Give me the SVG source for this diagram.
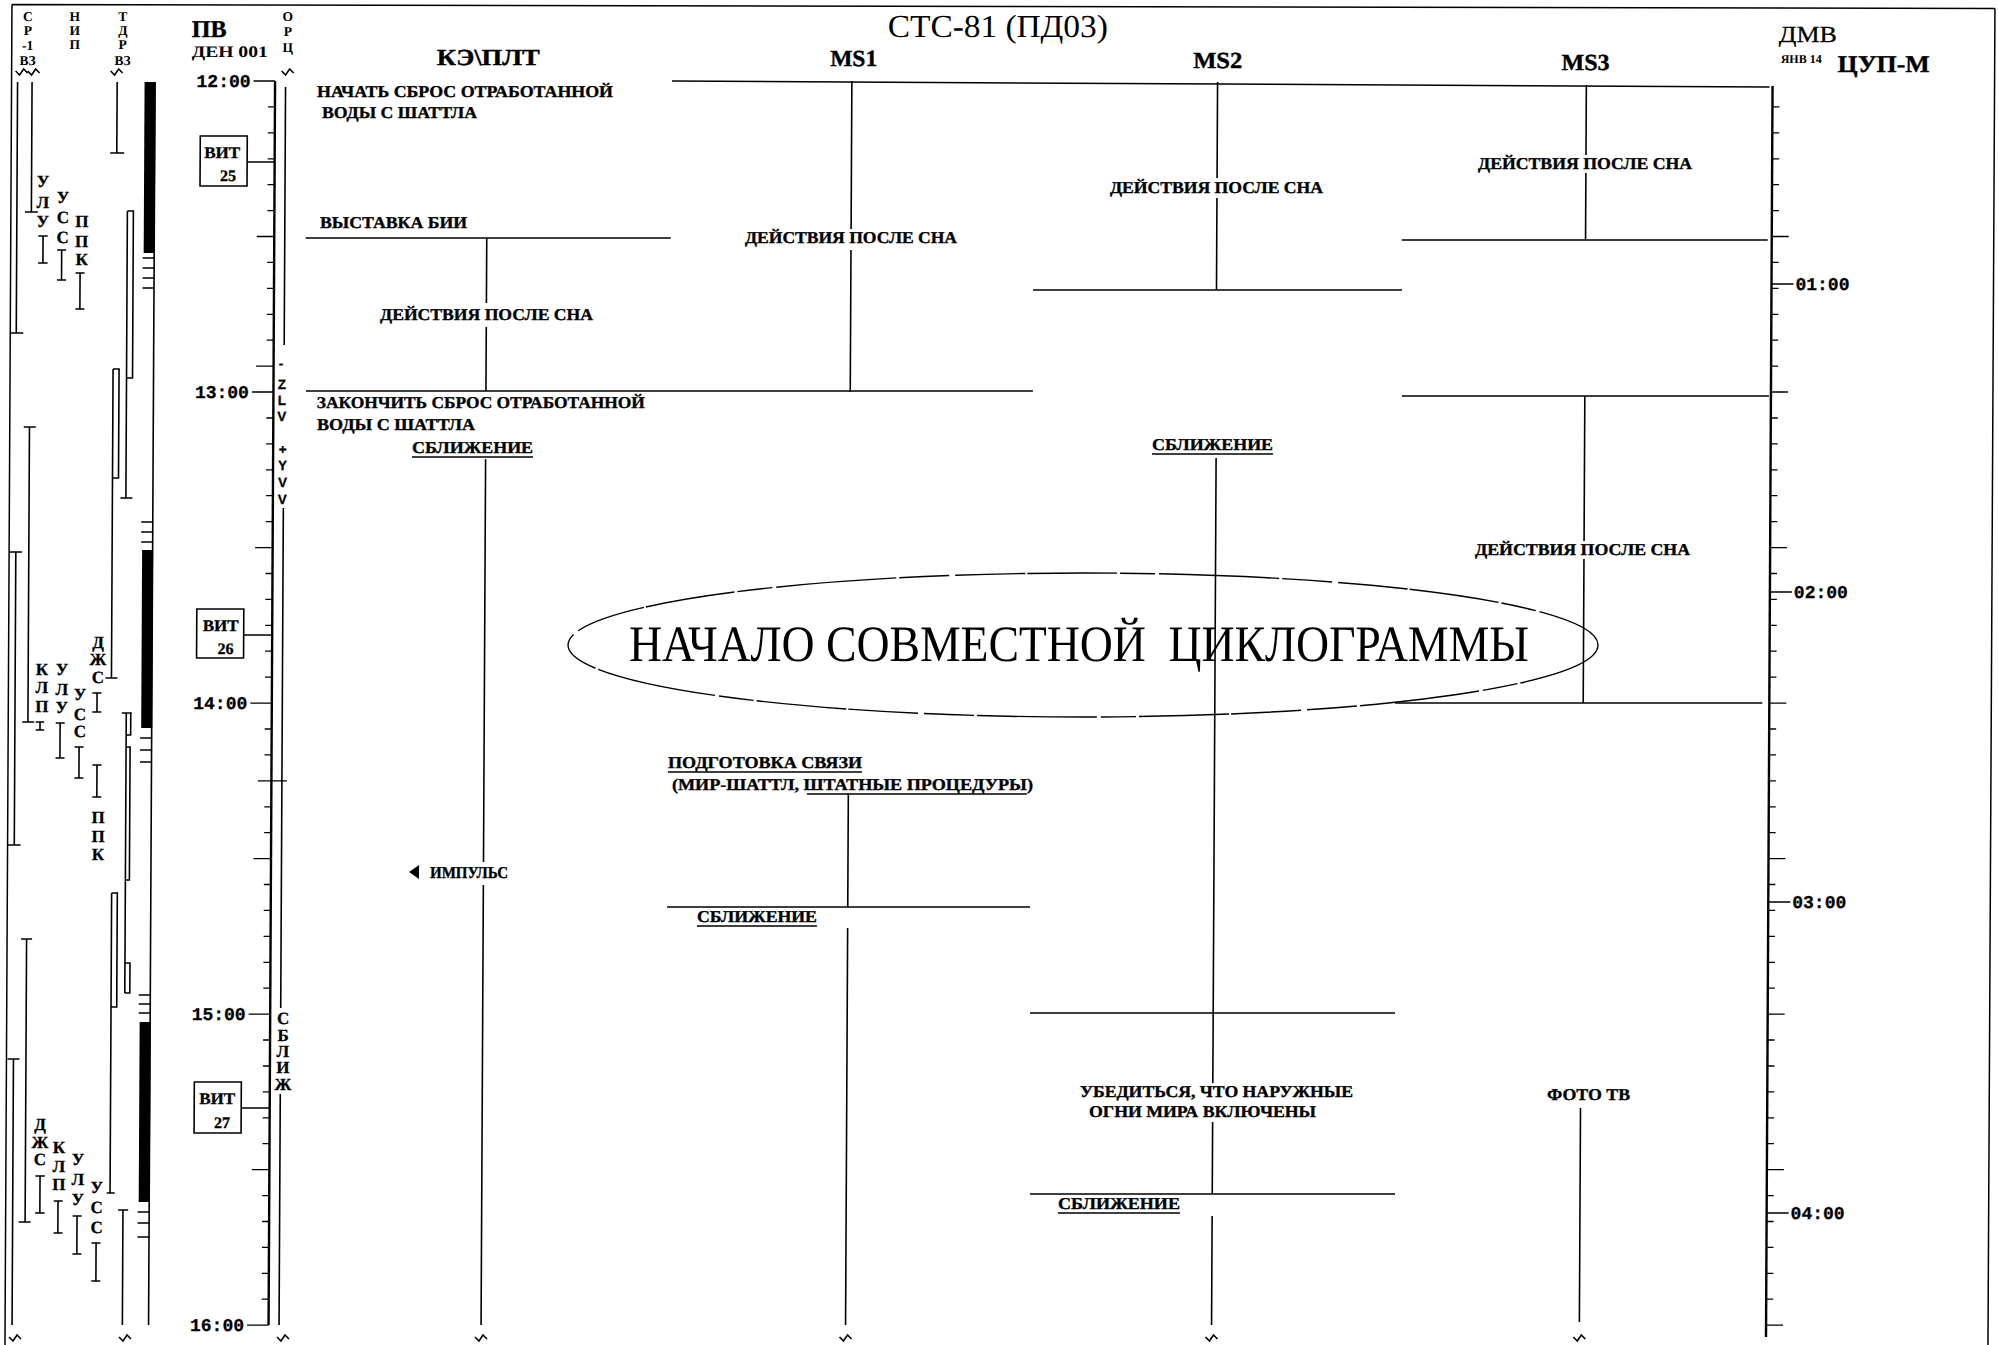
<svg xmlns="http://www.w3.org/2000/svg" width="1998" height="1345" viewBox="0 0 1998 1345">
<style>
text{font-family:"Liberation Serif","Times New Roman",serif;fill:#000}
.lbl{font-weight:bold;font-size:16.5px;stroke:#000;stroke-width:0.35}
.hdr{font-weight:bold;font-size:23px;text-anchor:middle;stroke:#000;stroke-width:0.4}
.sm{font-weight:bold;font-size:13.5px;text-anchor:middle}
.ltr{font-weight:bold;font-size:17px;text-anchor:middle;stroke:#000;stroke-width:0.3}
.lat{font-family:"Liberation Sans",Arial,sans-serif;font-weight:bold;font-size:13.5px;text-anchor:middle;stroke:#000;stroke-width:0.3}
.mono{font-family:"Liberation Mono","Courier New",monospace;font-weight:bold;font-size:18px;stroke:#000;stroke-width:0.3}
.vit{font-weight:bold;font-size:16px;stroke:#000;stroke-width:0.3}
.ln{stroke:#000;fill:none;stroke-width:1.6}
.th{stroke:#000;fill:none;stroke-width:2.4}
.hl{stroke:#000;fill:none;stroke-width:1.5}
.tk{stroke:#000;fill:none;stroke-width:1.3}
.ul{stroke:#000;fill:none;stroke-width:1.3}
.box{stroke:#000;fill:#fff;stroke-width:1.6}
</style>
<defs>
<path id="wv" d="M-6,-1 L-2,3 L2,-3 L6,1" fill="none" stroke="#000" stroke-width="1.6"/>
</defs>
<rect x="0" y="0" width="1998" height="1345" fill="#fff"/>
<g transform="skewX(-0.3)">

<g id="frame">
<path class="hl" d="M12,4.5 L1995,8.5 M12,4.5 V1345 M1995,8.5 V1345"/>
</g>

<g id="title">
<text x="998" y="37" font-size="32" text-anchor="middle" textLength="220" lengthAdjust="spacingAndGlyphs">СТС-81 (ПД03)</text>
</g>

<g id="left-panel">
<text class="sm" x="28" y="21">С</text><text class="sm" x="28" y="35">Р</text><text class="sm" x="28" y="50">-1</text><text class="sm" x="28" y="65">ВЗ</text>
<text class="sm" x="75" y="21">Н</text><text class="sm" x="75" y="35">И</text><text class="sm" x="75" y="49">П</text>
<text class="sm" x="123" y="21">Т</text><text class="sm" x="123" y="35">Д</text><text class="sm" x="123" y="49">Р</text><text class="sm" x="123" y="65">ВЗ</text>
<use href="#wv" x="22" y="72"/><use href="#wv" x="34" y="72"/><use href="#wv" x="117" y="72"/>
<use href="#wv" x="22" y="1338"/><use href="#wv" x="132" y="1338"/>
<path class="ln" d="M18,82 V333 M12,333 H25 M32.5,82 V212 M26,212 H39
M44.3,236 V263 M39.5,236 H49 M39.5,263 H49
M63,250 V280 M58.5,250 H67.5 M58.5,280 H67.5
M81.5,273 V309 M77,273 H86 M77,309 H86
M31.7,427 V722 M26,427 H38 M26,722 H38
M18.7,552 V845 M12,552 H25 M12,845 H25
M31.5,939 V1222 M26,939 H37 M25,1222 H37
M19,1059 V1325 M13,1059 H25
M43.8,722 V730 M39.5,722 H48 M39.5,730 H48
M63.9,723 V758 M59.5,723 H68.5 M59.5,758 H68.5
M83,747 V778 M78.5,747 H87.5 M78.5,778 H87.5
M100.7,693 V712 M96,693 H105 M96,712 H105
M101,765 V797 M96.5,765 H105.5 M96.5,797 H105.5
M46.2,1176 V1213 M41.5,1176 H51 M41.5,1213 H51
M64.3,1201 V1233 M60,1201 H69 M60,1233 H69
M83.4,1216 V1254 M79,1216 H88 M79,1254 H88
M102.6,1243 V1281 M98,1243 H107 M98,1281 H107
M117.6,82 V153 M111,153 H125
M128.5,211 V498 M128.5,211 H134.5 V378 H128.5 M123,498 H135
M115,369 V678 M115,369 H121 V478 H115 M109,678 H121
M130,713 V993 M125.5,713 H135.5 M134.5,713 V735 H130 M130,747 H134 V880 H130 M130,963 H135 V993 H130
M116.3,893 H122 V1007 H116.3 M116.3,893 V1193 M113,1193 H121
M129.3,1210 V1325 M124.5,1210 H134.5
M155.5,82 V1325"/>
<rect x="145" y="82" width="11" height="171" fill="#000"/>
<rect x="145" y="550" width="11" height="178" fill="#000"/>
<rect x="145" y="1022" width="11" height="180" fill="#000"/>
<path class="tk" d="M144,258 H156 M144,268 H156 M144,278 H156 M144,288 H156 M144,522 H156 M144,532 H156 M144,542 H156 M144,738 H156 M144,750 H156 M144,762 H156 M144,995 H156 M144,1004 H156 M144,1013 H156 M144,1212 H156 M144,1223 H156 M144,1237 H156"/>
<text class="ltr" x="44" y="187">У</text><text class="ltr" x="44" y="208">Л</text><text class="ltr" x="44" y="227">У</text>
<text class="ltr" x="64" y="203">У</text><text class="ltr" x="64" y="223">С</text><text class="ltr" x="64" y="243">С</text>
<text class="ltr" x="83" y="227">П</text><text class="ltr" x="83" y="247">П</text><text class="ltr" x="83" y="265">К</text>
<text class="ltr" x="101.5" y="648">Д</text><text class="ltr" x="101.5" y="665">Ж</text><text class="ltr" x="101.5" y="683">С</text>
<text class="ltr" x="45.5" y="675">К</text><text class="ltr" x="45.5" y="693">Л</text><text class="ltr" x="45.5" y="712">П</text>
<text class="ltr" x="65.5" y="675">У</text><text class="ltr" x="65.5" y="695">Л</text><text class="ltr" x="65.5" y="713">У</text>
<text class="ltr" x="83.7" y="700">У</text><text class="ltr" x="83.7" y="720">С</text><text class="ltr" x="83.7" y="737">С</text>
<text class="ltr" x="102.5" y="823">П</text><text class="ltr" x="102.5" y="842">П</text><text class="ltr" x="102.5" y="860">К</text>
<text class="ltr" x="46" y="1130">Д</text><text class="ltr" x="46" y="1148">Ж</text><text class="ltr" x="46" y="1165">С</text>
<text class="ltr" x="65" y="1153">К</text><text class="ltr" x="65" y="1172">Л</text><text class="ltr" x="65" y="1190">П</text>
<text class="ltr" x="84" y="1165">У</text><text class="ltr" x="84" y="1185">Л</text><text class="ltr" x="84" y="1205">У</text>
<text class="ltr" x="103" y="1193">У</text><text class="ltr" x="103" y="1213">С</text><text class="ltr" x="103" y="1233">С</text>
</g>

<g id="pv-axis">
<text x="192" y="37" font-size="24" font-weight="bold" stroke="#000" stroke-width="0.4">ПВ</text>
<text x="192" y="57" font-size="16" font-weight="bold" textLength="76" lengthAdjust="spacingAndGlyphs">ДЕН 001</text>
<path class="th" d="M275.5,81 V1325"/>
<path class="tk" d="M268.5,106.9h7M268.5,132.8h7M268.5,158.8h7M268.5,184.7h7M268.5,210.6h7M268.5,262.4h7M268.5,288.4h7M268.5,314.3h7M268.5,340.2h7M268.5,418h7M268.5,443.9h7M268.5,469.8h7M268.5,495.7h7M268.5,521.6h7M268.5,573.5h7M268.5,599.4h7M268.5,625.3h7M268.5,651.2h7M268.5,677.2h7M268.5,729h7M268.5,754.9h7M268.5,806.8h7M268.5,832.7h7M268.5,884.5h7M268.5,910.4h7M268.5,936.4h7M268.5,962.3h7M268.5,988.2h7M268.5,1040h7M268.5,1066h7M268.5,1091.9h7M268.5,1117.8h7M268.5,1143.7h7M268.5,1195.6h7M268.5,1221.5h7M268.5,1247.4h7M268.5,1273.3h7M268.5,1299.2h7
M258,236.5H275.5M258,366.1H275.5M258,547.6H275.5M258,858.6H275.5M258,1169.6H275.5M262,780.8H291
M254,81H275.5M254,392H275.5M254,703.1H275.5M254,1014.1H275.5M254,1325.2H275.5"/>
<text class="mono" x="251" y="87" text-anchor="end">12:00</text>
<text class="mono" x="251" y="398" text-anchor="end">13:00</text>
<text class="mono" x="251" y="709" text-anchor="end">14:00</text>
<text class="mono" x="251" y="1020" text-anchor="end">15:00</text>
<text class="mono" x="251" y="1331" text-anchor="end">16:00</text>
</g>

<g id="orc-track">
<text class="sm" x="288" y="21">О</text><text class="sm" x="288" y="36">Р</text><text class="sm" x="288" y="52">Ц</text>
<use href="#wv" x="288" y="72"/><use href="#wv" x="290" y="1338"/>
<path class="ln" stroke-width="2" d="M286,87 V345 M286,508 V1008 M286,1094 V1325"/>
<text class="lat" x="283" y="368">-</text><text class="lat" x="284" y="389">Z</text><text class="lat" x="284" y="405">L</text><text class="lat" x="284" y="421">V</text>
<text class="lat" x="285" y="454">+</text><text class="lat" x="285" y="470">Y</text><text class="lat" x="285" y="487">V</text><text class="lat" x="285" y="504">V</text>
<text class="ltr" x="288.5" y="1024">С</text><text class="ltr" x="288.5" y="1041">Б</text><text class="ltr" x="288.5" y="1057">Л</text><text class="ltr" x="288.5" y="1073">И</text><text class="ltr" x="288.5" y="1090">Ж</text>
</g>

<g id="vit-25">
<rect class="box" x="201" y="136" width="47" height="50"/>
<text class="vit" x="205" y="158" textLength="36" lengthAdjust="spacingAndGlyphs">ВИТ</text>
<text class="vit" x="221" y="181">25</text>
</g>
<g id="vit-26">
<rect class="box" x="200" y="609" width="47" height="49"/>
<text class="vit" x="206" y="631" textLength="36" lengthAdjust="spacingAndGlyphs">ВИТ</text>
<text class="vit" x="221" y="654">26</text>
</g>
<g id="vit-27">
<rect class="box" x="200" y="1082" width="47" height="51"/>
<text class="vit" x="205" y="1104" textLength="36" lengthAdjust="spacingAndGlyphs">ВИТ</text>
<text class="vit" x="220" y="1128">27</text>
</g>

<g id="column-headers">
<text class="hdr" x="488.5" y="65" textLength="103" lengthAdjust="spacingAndGlyphs">КЭ\ПЛТ</text>
<text class="hdr" x="854" y="66" textLength="47" lengthAdjust="spacingAndGlyphs">MS1</text>
<text class="hdr" x="1218" y="68" textLength="49" lengthAdjust="spacingAndGlyphs">MS2</text>
<text class="hdr" x="1586" y="70" textLength="48" lengthAdjust="spacingAndGlyphs">MS3</text>
</g>

<g id="tsup-axis">
<text x="1779" y="42" font-size="23" textLength="58" lengthAdjust="spacingAndGlyphs" stroke="#000" stroke-width="0.3">ДМВ</text>
<text x="1781" y="63" font-size="12" font-weight="bold">ЯНВ 14</text>
<text x="1838" y="72" font-size="24" font-weight="bold" textLength="92" lengthAdjust="spacingAndGlyphs" stroke="#000" stroke-width="0.4">ЦУП-М</text>
<path class="th" d="M1773,86 V1337"/>
<path class="tk" d="M1773,106.9h7M1773,132.8h7M1773,158.8h7M1773,184.7h7M1773,210.6h7M1773,262.4h7M1773,288.4h7M1773,314.3h7M1773,340.2h7M1773,366.1h7M1773,418h7M1773,443.9h7M1773,469.8h7M1773,495.7h7M1773,521.6h7M1773,573.5h7M1773,599.4h7M1773,625.3h7M1773,651.2h7M1773,677.2h7M1773,729h7M1773,754.9h7M1773,780.8h7M1773,806.8h7M1773,832.7h7M1773,884.5h7M1773,910.4h7M1773,936.4h7M1773,962.3h7M1773,988.2h7M1773,1040h7M1773,1066h7M1773,1091.9h7M1773,1117.8h7M1773,1143.7h7M1773,1195.6h7M1773,1221.5h7M1773,1247.4h7M1773,1273.3h7M1773,1299.2h7
M1773,236.5h17M1773,392h17M1773,547.6h17M1773,703.1h17M1773,858.6h17M1773,1014.1h17M1773,1169.6h17M1773,1325.2h17
M1773,284H1795M1773,592H1795M1773,902H1795M1773,1213H1795"/>
<text class="mono" x="1797" y="290">01:00</text>
<text class="mono" x="1797" y="598">02:00</text>
<text class="mono" x="1797" y="908">03:00</text>
<text class="mono" x="1797" y="1219">04:00</text>
</g>

<g id="connectors">
<path class="hl" d="M672.4,81 L1770,87
M307,238 H672 M308,391 H1035
M1034.5,290 H1403.5 M1403,240 H1769 M1404,396 H1771 M1398.7,703 H1766
M671.8,907 H1034.8 M1035.3,1013 H1400.3 M1036.3,1194 H1401.3"/>
<path class="ln" stroke-width="1.8" d="M488,238 V303 M488,327 V391
M488,459 V862 M488,885 V1325
M852.3,81 V229 M852.3,250 V392
M852.5,793 V907 M852.5,928 V1325
M1218,82 V178 M1218,198 V290
M1218.5,458 V1083 M1218.5,1122 V1194 M1218.5,1216 V1325
M1586.8,85 V155 M1586.8,173 V240
M1586.9,396 V541 M1586.9,559 V703
M1586.3,1108 V1322"/>
<path class="ln" d="M248,162 H275.5 M247,635 H275.5 M247,1108 H275.5"/>
<use href="#wv" x="488" y="1338"/><use href="#wv" x="852.5" y="1338"/><use href="#wv" x="1218.5" y="1338"/><use href="#wv" x="1586.3" y="1338"/>
</g>

<g id="ke-start-dump"><text class="lbl" x="317.5" y="97" textLength="296" lengthAdjust="spacingAndGlyphs">НАЧАТЬ СБРОС ОТРАБОТАННОЙ</text>
<text class="lbl" x="322.6" y="118" textLength="155" lengthAdjust="spacingAndGlyphs">ВОДЫ С ШАТТЛА</text></g>
<g id="ke-bii"><text class="lbl" x="321.2" y="228" textLength="147" lengthAdjust="spacingAndGlyphs">ВЫСТАВКА БИИ</text></g>
<g id="ke-post-sleep"><text class="lbl" x="381.7" y="320" textLength="213" lengthAdjust="spacingAndGlyphs">ДЕЙСТВИЯ ПОСЛЕ СНА</text></g>
<g id="ke-end-dump"><text class="lbl" x="319" y="408" textLength="328" lengthAdjust="spacingAndGlyphs">ЗАКОНЧИТЬ СБРОС ОТРАБОТАННОЙ</text>
<text class="lbl" x="319.3" y="430" textLength="158" lengthAdjust="spacingAndGlyphs">ВОДЫ С ШАТТЛА</text></g>
<g id="ke-approach"><text class="lbl" x="414.4" y="453" textLength="121" lengthAdjust="spacingAndGlyphs">СБЛИЖЕНИЕ</text>
<path class="ul" d="M414.4,457 H535.4"/></g>
<g id="ke-impulse"><polygon points="413.6,872 423.6,865 423.6,879" fill="#000"/>
<text class="lbl" x="434.6" y="878" textLength="78" lengthAdjust="spacingAndGlyphs">ИМПУЛЬС</text></g>

<g id="ms1-post-sleep"><text class="lbl" x="746.3" y="243" textLength="212" lengthAdjust="spacingAndGlyphs">ДЕЙСТВИЯ ПОСЛЕ СНА</text></g>
<g id="ms1-comm"><text class="lbl" x="672" y="768" textLength="194" lengthAdjust="spacingAndGlyphs">ПОДГОТОВКА СВЯЗИ</text>
<text class="lbl" x="676.1" y="790" textLength="361" lengthAdjust="spacingAndGlyphs">(МИР-ШАТТЛ, ШТАТНЫЕ ПРОЦЕДУРЫ)</text>
<path class="ul" d="M672,772 H866 M811,794 H1031"/></g>
<g id="ms1-approach"><text class="lbl" x="701.8" y="922" textLength="120" lengthAdjust="spacingAndGlyphs">СБЛИЖЕНИЕ</text>
<path class="ul" d="M701.8,926 H821.8"/></g>

<g id="ms2-post-sleep"><text class="lbl" x="1111" y="193" textLength="213" lengthAdjust="spacingAndGlyphs">ДЕЙСТВИЯ ПОСЛЕ СНА</text></g>
<g id="ms2-approach"><text class="lbl" x="1154.4" y="450" textLength="121" lengthAdjust="spacingAndGlyphs">СБЛИЖЕНИЕ</text>
<path class="ul" d="M1154.4,454 H1275.4"/></g>
<g id="ms2-lights"><text class="lbl" x="1085.7" y="1097" textLength="273" lengthAdjust="spacingAndGlyphs">УБЕДИТЬСЯ, ЧТО НАРУЖНЫЕ</text>
<text class="lbl" x="1094.9" y="1117" textLength="227" lengthAdjust="spacingAndGlyphs">ОГНИ МИРА ВКЛЮЧЕНЫ</text></g>
<g id="ms2-approach-2"><text class="lbl" x="1064.3" y="1209" textLength="122" lengthAdjust="spacingAndGlyphs">СБЛИЖЕНИЕ</text>
<path class="ul" d="M1064.3,1213 H1186.3"/></g>

<g id="ms3-post-sleep-1"><text class="lbl" x="1478.9" y="169" textLength="214" lengthAdjust="spacingAndGlyphs">ДЕЙСТВИЯ ПОСЛЕ СНА</text></g>
<g id="ms3-post-sleep-2"><text class="lbl" x="1477.9" y="555" textLength="215" lengthAdjust="spacingAndGlyphs">ДЕЙСТВИЯ ПОСЛЕ СНА</text></g>
<g id="ms3-photo"><text class="lbl" x="1552.8" y="1100" textLength="83" lengthAdjust="spacingAndGlyphs">ФОТО ТВ</text></g>

<g id="joint-start">
<ellipse cx="1086.4" cy="645" rx="515" ry="72" fill="none" stroke="#000" stroke-width="1.4" stroke-dasharray="90 3 35 4 120 3 50 6 70 2"/>
<text x="1082.4" y="661" font-size="51" text-anchor="middle" textLength="900" lengthAdjust="spacingAndGlyphs">НАЧАЛО СОВМЕСТНОЙ&#160; ЦИКЛОГРАММЫ</text>
</g>

</g>
</svg>
